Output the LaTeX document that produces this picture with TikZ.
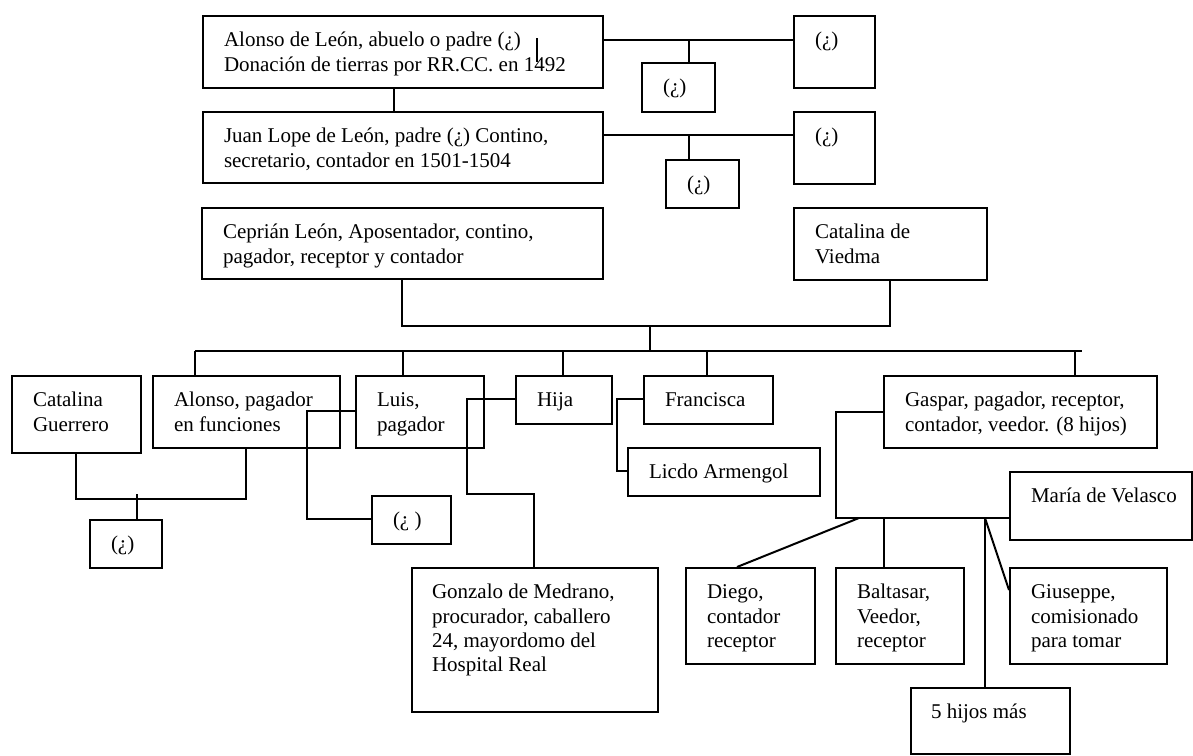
\documentclass[tikz,border=0pt]{standalone}
\usepackage{fontspec}
\setmainfont{Liberation Serif}
\begin{document}
\begin{tikzpicture}[x=1pt,y=-1pt,line width=2pt,
    fbox/.style={draw,anchor=north west,inner sep=0pt},
    ftxt/.style={anchor=north west,inner sep=0pt,align=left,font=\fontsize{21pt}{24.2pt}\selectfont}]
    \useasboundingbox (0,0) rectangle (1193,755);

    \node[fbox,minimum width=400pt,minimum height=72pt] (alonsoL) at (202,15) {};
    \node[fbox,minimum width=81pt,minimum height=72pt] (q1) at (793,15) {};
    \node[fbox,minimum width=73pt,minimum height=49pt] (q2) at (641,62) {};
    \node[fbox,minimum width=400pt,minimum height=71pt] (juan) at (202,111) {};
    \node[fbox,minimum width=81pt,minimum height=72pt] (q3) at (793,111) {};
    \node[fbox,minimum width=73pt,minimum height=48pt] (q4) at (665,159) {};
    \node[fbox,minimum width=401pt,minimum height=71pt] (cepr) at (201,207) {};
    \node[fbox,minimum width=193pt,minimum height=72pt] (viedma) at (793,207) {};

    \node[fbox,minimum width=129pt,minimum height=77pt] (guerr) at (11,375) {};
    \node[fbox,minimum width=187pt,minimum height=72pt] (alonso) at (152,375) {};
    \node[fbox,minimum width=128pt,minimum height=72pt] (luis) at (355,375) {};
    \node[fbox,minimum width=96pt,minimum height=48pt] (hija) at (515,375) {};
    \node[fbox,minimum width=129pt,minimum height=48pt] (fran) at (643,375) {};
    \node[fbox,minimum width=273pt,minimum height=72pt] (gaspar) at (883,375) {};
    \node[fbox,minimum width=192pt,minimum height=48pt] (licdo) at (627,447) {};
    \node[fbox,minimum width=72pt,minimum height=48pt] (q5) at (89,519) {};
    \node[fbox,minimum width=79pt,minimum height=48pt] (q6) at (371,495) {};
    \node[fbox,minimum width=246pt,minimum height=144pt] (gonz) at (411,567) {};
    \node[fbox,minimum width=182pt,minimum height=68pt] (maria) at (1009,471) {};
    \node[fbox,minimum width=129pt,minimum height=96pt] (diego) at (685,567) {};
    \node[fbox,minimum width=128pt,minimum height=96pt] (balt) at (835,567) {};
    \node[fbox,minimum width=157pt,minimum height=96pt] (gius) at (1009,567) {};
    \node[fbox,minimum width=159pt,minimum height=66pt] (cinco) at (910,687) {};

    \node[ftxt] (alonsoL-t) at ([shift={(21,14)}]alonsoL.north west) {\strut Alonso de León, abuelo o padre (¿)\\Donación de tierras por RR.CC. en 1492};
    \node[ftxt] (q1-t) at ([shift={(21,14)}]q1.north west) {\strut(¿)};
    \node[ftxt] (q2-t) at ([shift={(21,14)}]q2.north west) {\strut(¿)};
    \node[ftxt] (juan-t) at ([shift={(21,14)}]juan.north west) {\strut Juan Lope de León, padre (¿) Contino,\\secretario, contador en 1501-1504};
    \node[ftxt] (q3-t) at ([shift={(21,14)}]q3.north west) {\strut(¿)};
    \node[ftxt] (q4-t) at ([shift={(21,14)}]q4.north west) {\strut(¿)};
    \node[ftxt] (cepr-t) at ([shift={(21,14)}]cepr.north west) {\strut Ceprián León, Aposentador, contino,\\pagador, receptor y contador};
    \node[ftxt] (viedma-t) at ([shift={(21,14)}]viedma.north west) {\strut Catalina de\\Viedma};
    \node[ftxt] (guerr-t) at ([shift={(21,14)}]guerr.north west) {\strut Catalina\\Guerrero};
    \node[ftxt] (alonso-t) at ([shift={(21,14)}]alonso.north west) {\strut Alonso, pagador\\en funciones};
    \node[ftxt] (luis-t) at ([shift={(21,14)}]luis.north west) {\strut Luis,\\pagador};
    \node[ftxt] (hija-t) at ([shift={(21,14)}]hija.north west) {\strut Hija};
    \node[ftxt] (fran-t) at ([shift={(21,14)}]fran.north west) {\strut Francisca};
    \node[ftxt] (gaspar-t) at ([shift={(21,14)}]gaspar.north west) {\strut Gaspar, pagador, receptor,\\contador, veedor. (8 hijos)};
    \node[ftxt] (licdo-t) at ([shift={(21,14)}]licdo.north west) {\strut Licdo Armengol};
    \node[ftxt] (q5-t) at ([shift={(21,14)}]q5.north west) {\strut(¿)};
    \node[ftxt] (q6-t) at ([shift={(21,14)}]q6.north west) {\strut(¿ )};
    \node[ftxt] (gonz-t) at ([shift={(20,14)}]gonz.north west) {\strut Gonzalo de Medrano,\\procurador, caballero\\24, mayordomo del\\Hospital Real};
    \node[ftxt] (maria-t) at ([shift={(21,14)}]maria.north west) {\strut María de Velasco};
    \node[ftxt] (diego-t) at ([shift={(21,14)}]diego.north west) {\strut Diego,\\contador\\receptor};
    \node[ftxt] (balt-t) at ([shift={(21,14)}]balt.north west) {\strut Baltasar,\\Veedor,\\receptor};
    \node[ftxt] (gius-t) at ([shift={(21,14)}]gius.north west) {\strut Giuseppe,\\comisionado\\para tomar};
    \node[ftxt] (cinco-t) at ([shift={(20,14)}]cinco.north west) {\strut 5 hijos más};

    \coordinate (a1) at (689,40);
    \draw (alonsoL.east |- a1) -- (q1.west |- a1);
    \draw (a1) -- (q2.north -| a1);
    \draw ([shift={(335,23)}]alonsoL.north west) -- ++(0,24);
    \draw (alonsoL.south -| 394,0) -- (juan.north -| 394,0);
    \coordinate (a2) at (689,135);
    \draw (juan.east |- a2) -- (q3.west |- a2);
    \draw (a2) -- (q4.north -| a2);

    \draw (cepr.south -| 402,0) -- (402,326) -| (viedma.south -| 890,0);
    \draw (650,326) -- (650,351);
    \draw (195,351) -- (1082,351);
    \foreach \n/\x in {alonso/195,luis/403,hija/563,fran/707,gaspar/1075}
        \draw (\x,351) -- (\n.north -| \x,0);

    \draw (guerr.south -| 76,0) -- (76,499) -| (alonso.south -| 246,0);
    \draw (137,494) -- (q5.north -| 137,0);
    \draw (luis.west |- 0,411) -| (307,519) -- (q6.west |- 0,519);
    \draw (hija.west |- 0,399) -| (467,494) -| (gonz.north -| 534,0);
    \draw (fran.west |- 0,399) -| (617,471) -- (licdo.west |- 0,471);
    \draw (gaspar.west |- 0,412) -| (836,518) -- (maria.west |- 0,518);
    \draw (859,518) -- (diego.north -| 737,0);
    \draw (884,518) -- (balt.north -| 884,0);
    \draw (985,518) -- (gius.west |- 0,590);
    \draw (985,518) -- (cinco.north -| 985,0);

  \end{tikzpicture}
\end{document}
